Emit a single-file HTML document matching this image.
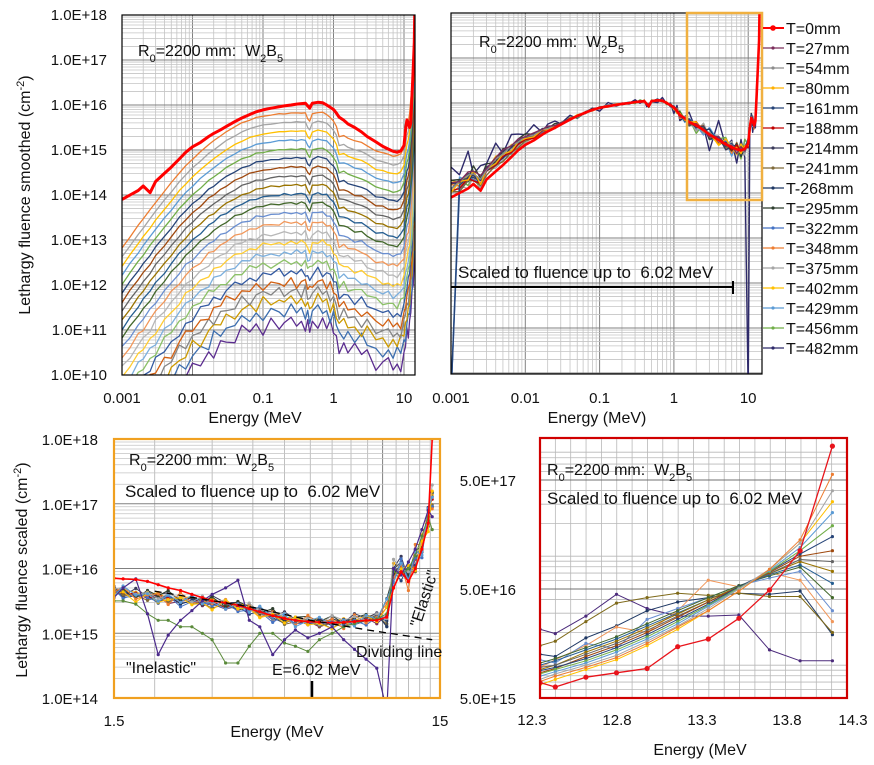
<!DOCTYPE html>
<html><head><meta charset="utf-8"><style>
body{margin:0;background:#fff}
svg{display:block;font-family:"Liberation Sans",sans-serif}
</style></head><body>
<svg id="chart" width="874" height="765" viewBox="0 0 874 765" xmlns="http://www.w3.org/2000/svg">
<defs>
<clipPath id="clipA"><rect x="122" y="15" width="293" height="360"/></clipPath>
<clipPath id="clipB"><rect x="451" y="13" width="311" height="361"/></clipPath>
<clipPath id="clipC"><rect x="114" y="439" width="326" height="259"/></clipPath>
<clipPath id="clipD"><rect x="540" y="438" width="307" height="260"/></clipPath>
</defs>
<rect x="0" y="0" width="874" height="765" fill="#fff"/>
<g id="gA"></g>
<g id="gB"></g>
<g id="gC"></g>
<g id="gD"></g>
<g id="texts" font-size="16" fill="#111">
 <text transform="translate(30,195) rotate(-90)" text-anchor="middle">Lethargy fluence smoothed (cm<tspan baseline-shift="super" font-size="11">-2</tspan>)</text>
 <text x="255" y="423" text-anchor="middle">Energy (MeV</text>
 <text x="597" y="423" text-anchor="middle">Energy (MeV)</text>
 <text transform="translate(27,570) rotate(-90)" text-anchor="middle">Lethargy fluence scaled (cm<tspan baseline-shift="super" font-size="11">-2</tspan>)</text>
 <text x="277" y="737" text-anchor="middle">Energy (MeV</text>
 <text x="700" y="755" text-anchor="middle">Energy (MeV</text>
 <text x="138" y="56">R<tspan baseline-shift="sub" font-size="11">0</tspan><tspan>=2200 mm:&#160; W</tspan><tspan baseline-shift="sub" font-size="11">2</tspan><tspan>B</tspan><tspan baseline-shift="sub" font-size="11">5</tspan></text>
 <text x="479" y="47">R<tspan baseline-shift="sub" font-size="11">0</tspan><tspan>=2200 mm:&#160; W</tspan><tspan baseline-shift="sub" font-size="11">2</tspan><tspan>B</tspan><tspan baseline-shift="sub" font-size="11">5</tspan></text>
 <text x="458" y="278" font-size="17">Scaled to fluence up to&#160; 6.02 MeV</text>
 <text x="129" y="465">R<tspan baseline-shift="sub" font-size="11">0</tspan><tspan>=2200 mm:&#160; W</tspan><tspan baseline-shift="sub" font-size="11">2</tspan><tspan>B</tspan><tspan baseline-shift="sub" font-size="11">5</tspan></text>
 <text x="125" y="497" font-size="17">Scaled to fluence up to&#160; 6.02 MeV</text>
 <text x="126" y="673">"Inelastic"</text>
 <text x="272" y="675">E=6.02 MeV</text>
 <text x="356" y="657">Dividing line</text>
 <text transform="translate(420,628) rotate(-72)">"Elastic"</text>
 <text x="547" y="475">R<tspan baseline-shift="sub" font-size="11">0</tspan><tspan>=2200 mm:&#160; W</tspan><tspan baseline-shift="sub" font-size="11">2</tspan><tspan>B</tspan><tspan baseline-shift="sub" font-size="11">5</tspan></text>
 <text x="547" y="504" font-size="17">Scaled to fluence up to&#160; 6.02 MeV</text>
</g>
</svg>
<script>
// ---------- data ----------
const aE = [0.001,0.0013,0.0017,0.002,0.0025,0.003,0.004,0.005,0.0065,0.008,0.01,0.013,0.017,0.02,0.025,0.03,0.04,0.05,0.065,0.08,0.1,0.13,0.17,0.2,0.25,0.3,0.35,0.4,0.43,0.46,0.5,0.6,0.7,0.8,0.9,1.0,1.1,1.2,1.4,1.6,2,2.5,3,4,5,6,7,8,9,10,10.5,11,11.5,12,12.5,13,13.5,14,14.2];
const redA = [13.9,14.0,14.1,14.2,14.05,14.3,14.48,14.62,14.8,14.95,15.07,15.17,15.3,15.37,15.45,15.52,15.63,15.71,15.79,15.85,15.89,15.93,15.96,15.98,16.0,16.02,16.03,16.04,15.98,15.93,16.04,16.06,16.05,16.0,15.95,15.9,15.82,15.73,15.66,15.58,15.5,15.4,15.3,15.18,15.08,15.02,14.97,14.95,14.98,15.1,15.45,15.67,15.6,15.5,15.6,16.2,16.8,17.4,18.0];
const relA = [-3.0,-2.75,-2.5,-2.35,-2.15,-1.98,-1.74,-1.55,-1.33,-1.17,-1.02,-0.86,-0.7,-0.62,-0.5,-0.42,-0.3,-0.22,-0.15,-0.1,-0.07,-0.04,-0.02,-0.01,0,0,0,0,-0.12,-0.18,-0.02,0.02,0.01,-0.03,-0.1,-0.18,-0.3,-0.52,-0.5,-0.55,-0.62,-0.65,-0.72,-0.85,-0.88,-0.92,-0.95,-0.95,-0.9,-0.75,-0.5,-0.3,-0.2,0,0.3,0.6,1.0,1.3,1.5];
const peakA = [15.82,15.62,15.42,15.22,15.02,14.82,14.62,14.42,14.22,14.02,13.82,13.6,13.38,13.16,12.94,12.72,12.5,12.28,12.05,11.85,11.65,11.42,11.15];
const ampA = [0.01,0.01,0.01,0.015,0.015,0.02,0.02,0.02,0.025,0.03,0.03,0.04,0.05,0.06,0.07,0.08,0.1,0.12,0.14,0.16,0.18,0.2,0.22];
const wig = [0.3,-0.5,0.8,-0.2,0.6,-0.9,0.1,0.7,-0.4,0.2,-0.8,0.5,-0.1,0.9,-0.6,0.3,-0.3,0.6,-0.7,0.4,0.0,-0.5,0.8,-0.9,0.2,0.5,-0.2,0.7,-0.6,0.1,0.4,-0.8,0.9,-0.3,0.2,-0.1,0.6,-0.4,0.3,-0.7,0.5,0.0,-0.6,0.8,-0.2,0.4,-0.9,0.7,-0.5,0.1,0.6,-0.3,0.2,-0.8,0.9,-0.1,0.3,-0.6,0.5,-0.4,0.8,-0.2,0.1,-0.7];
const pal = ['#ED7D31','#A5A5A5','#FFC000','#5B9BD5','#70AD47','#264478','#9E480E','#636363','#997300','#255E91','#43682B','#698ED0','#F1975A','#B7B7B7','#FFCD33','#7CAFDD','#8CC168','#335AA1','#D26012','#848484','#CC9A00','#3C6EAF','#5B2C8F'];
const legendLabels = ['T=0mm','T=27mm','T=54mm','T=80mm','T=161mm','T=188mm','T=214mm','T=241mm','T-268mm','T=295mm','T=322mm','T=348mm','T=375mm','T=402mm','T=429mm','T=456mm','T=482mm'];
const legendColors = ['#FF0000','#7B2D5B','#8C8C8C','#FFB000','#264478','#C00000','#3A3A5A','#7F6A3A','#1F3864','#2F3F2F','#4472C4','#ED7D31','#A5A5A5','#FFC000','#5B9BD5','#70AD47','#2E2A6A'];
const bLow = [0.3,0.25,0.2,0.2,0.15,0.25,0.1,0.2,0.3,0.15,0.2,0.1,0.25,0.2,0.15,0.45];
const bW = [1,1,1,1,1,1,1,1,0.9,0.8,0.7,0.5,0.4,0.3,0.2,0.1,0.05,0,0,0,0,0,0,0,0,0,0,0,0,0,0,0,0,0,0,0,0,0,0,0,0,0,0,0,0,0,0,0,0,0,0,0,0,0,0,0,0,0,0];
const bNW = [1.5,1.5,1.4,1.3,1.2,1.1,1,0.9,0.8,0.7,0.6,0.5,0.5,0.45,0.4,0.4,0.35,0.3,0.3,0.3,0.3,0.3,0.3,0.3,0.3,0.3,0.3,0.3,0.3,0.3,0.3,0.3,0.3,0.35,0.4,0.5,0.6,0.8,1,1.2,1.3,1.4,1.5,1.6,1.7,1.7,1.7,1.6,1.6,1.5,1.4,1.3,1.2,1.1,1,1,1,1,1];
const ampB = [0.06,0.05,0.08,0.06,0.07,0.08,0.06,0.09,0.1,0.08,0.1,0.12,0.11,0.13,0.15,0.3];
const dropB = [3,9,13];
const cE = [1.5,1.6,1.75,1.9,2.05,2.2,2.4,2.6,2.8,3.0,3.3,3.6,3.9,4.2,4.6,5.0,5.4,5.9,6.4,7.0,7.6,8.2,8.9,9.6,10.3,10.8,11.4,12.0,12.6,13.2,13.8,14.2];
const cBase = [15.66,15.63,15.6,15.58,15.56,15.54,15.52,15.5,15.48,15.47,15.45,15.42,15.38,15.33,15.27,15.23,15.2,15.18,15.17,15.17,15.18,15.2,15.22,15.23,15.28,15.95,16.0,15.9,16.1,16.4,16.8,17.1];
const cRed = [15.85,15.84,15.83,15.8,15.75,15.7,15.66,15.6,15.55,15.5,15.47,15.43,15.38,15.33,15.27,15.23,15.2,15.18,15.17,15.16,15.17,15.18,15.2,15.2,15.25,15.7,15.95,15.8,16.0,16.3,16.7,18.0];
const cPurple = [15.55,15.7,15.84,15.3,14.67,14.97,15.2,15.35,15.5,15.6,15.7,15.82,15.2,15.1,14.67,14.9,15.05,14.93,15.0,15.1,14.9,14.75,14.6,14.46,13.5,16.0,15.9,16.1,16.3,16.6,16.9,16.8];
const cGreen = [15.5,15.5,15.45,15.3,15.2,15.2,15.1,15.1,15.0,14.9,14.54,14.54,14.8,15.0,15.0,14.85,14.8,14.72,14.9,15.0,15.1,15.15,15.2,15.22,15.3,15.95,15.9,16.0,16.2,16.5,16.8,16.6];
const ampC = [0.06,0.07,0.05,0.08,0.06,0.09,0.07,0.08,0.1,0.09,0.12,0.08,0.1,0.11];
const dE = [12.35,12.44,12.62,12.8,12.98,13.16,13.34,13.52,13.7,13.88,14.07];
const dSeries = [
 [15.84,15.80,15.89,15.93,15.97,16.17,16.24,16.43,16.69,17.05,18.01],
 [15.85,15.9,15.98,16.07,16.2,16.35,16.5,16.68,16.88,17.15,17.75],
 [15.87,15.92,16.0,16.09,16.22,16.36,16.52,16.7,16.88,17.12,17.6],
 [15.82,15.87,15.96,16.05,16.18,16.33,16.5,16.68,16.88,17.12,17.5],
 [15.9,15.94,16.02,16.12,16.24,16.38,16.54,16.7,16.87,17.08,17.4],
 [15.92,15.96,16.04,16.14,16.26,16.4,16.55,16.71,16.86,17.05,17.28],
 [15.95,15.98,16.06,16.16,16.28,16.42,16.56,16.72,16.86,17.02,17.18],
 [15.93,15.97,16.08,16.18,16.3,16.44,16.58,16.72,16.85,17.0,17.05],
 [15.98,16.0,16.1,16.2,16.32,16.45,16.58,16.72,16.84,16.97,16.95],
 [15.96,16.0,16.12,16.22,16.34,16.47,16.6,16.72,16.84,16.95,16.86],
 [16.0,16.04,16.14,16.24,16.36,16.48,16.6,16.72,16.83,16.92,16.75],
 [16.02,16.06,16.16,16.26,16.38,16.5,16.62,16.73,16.82,16.9,16.62],
 [16.05,16.02,16.2,16.15,16.42,16.52,16.62,16.73,16.8,16.86,16.5],
 [15.98,16.05,16.18,16.35,16.3,16.5,16.78,16.72,16.85,16.78,16.4],
 [16.18,16.22,16.4,16.57,16.62,16.66,16.64,16.66,16.63,16.63,16.3],
 [16.1,16.08,16.25,16.36,16.5,16.58,16.62,16.66,16.65,16.68,16.28],
 [16.33,16.29,16.45,16.65,16.52,16.45,16.45,16.46,16.14,16.04,16.04]
];
const dColors = ['#E8141B','#ED7D31','#A5A5A5','#FFC000','#5B9BD5','#70AD47','#264478','#9E480E','#636363','#997300','#255E91','#43682B','#698ED0','#F1975A','#7F6A1A','#1F3864','#4B2A7B'];
const yTicksA = [10,11,12,13,14,15,16,17,18];
const xTicksLog = [0.001,0.01,0.1,1,10];
const xTickLabelsLog = ['0.001','0.01','0.1','1','10'];
const yTicksC = [14,15,16,17,18];
const yTicksD = ['5.0E+15','5.0E+16','5.0E+17'];
const yTicksDval = [5e15,5e16,5e17];
const xTicksD = ['12.3','12.8','13.3','13.8','14.3'];
const xTicksDval = [12.3,12.8,13.3,13.8,14.3];

// ---------- helpers ----------
const NS = 'http://www.w3.org/2000/svg';
function mk(tag, parent){const e=document.createElementNS(NS,tag);parent.appendChild(e);return e;}
function line(p,x1,y1,x2,y2,c,w){const l=mk('line',p);l.setAttribute('x1',x1);l.setAttribute('y1',y1);l.setAttribute('x2',x2);l.setAttribute('y2',y2);l.setAttribute('stroke',c);l.setAttribute('stroke-width',w);return l;}
function txt(p,x,y,s,anchor,size){const t=mk('text',p);t.setAttribute('x',x);t.setAttribute('y',y);t.setAttribute('text-anchor',anchor);t.setAttribute('font-size',size||15);t.setAttribute('fill','#111');t.textContent=s;return t;}
function poly(p,pts,c,w){const l=mk('polyline',p);l.setAttribute('points',pts.map(q=>q[0].toFixed(1)+','+q[1].toFixed(1)).join(' '));l.setAttribute('fill','none');l.setAttribute('stroke',c);l.setAttribute('stroke-width',w);l.setAttribute('stroke-linejoin','round');return l;}
const clampLv = v => Math.max(v, 9.3);

// ---------- Panel A ----------
const xA = e => 122 + (Math.log10(e)+3)*70.5;
const yA = lv => 15 + (18-lv)*45;
const gA = document.getElementById('gA');
function logGrid(g, xs, ys, x0,x1,y0,y1, xmin,xmax){
 for(let d=-3; d<=1; d++) for(let m=1;m<=9;m++){const e=m*Math.pow(10,d); if(e<xmin||e>xmax) continue; const x=xs(e);
  const gl=line(g,x,y0,x,y1,m===1?'#808080':'#c4c4c4',m===1?1:0.8);
  
  }
 for(let d=10; d<=17; d++) for(let m=1;m<=9;m++){const y=ys(d+Math.log10(m)); if(y<y0-0.5) continue;
  const gl=line(g,x0,y,x1,y,m===1?'#808080':'#c4c4c4',m===1?1:0.8);
  
  }
}
logGrid(gA,xA,yA,122,415,15,375,0.001,14.3);
const sA = mk('g',gA); sA.setAttribute('clip-path','url(#clipA)');


for(let s=peakA.length-1;s>=0;s--){
 const pts=aE.map((e,j)=>[xA(e), yA(clampLv(peakA[s]+relA[j]+ampA[s]*wig[(j+7*s)%64]))]);
 const pl=poly(sA,pts,pal[s],1.3);
 
 
}
{const pl=poly(sA,aE.map((e,j)=>[xA(e),yA(redA[j])]),'#FF0000',3);
 
 }
{const fr=mk('rect',gA);fr.setAttribute('x',122);fr.setAttribute('y',15);fr.setAttribute('width',293);fr.setAttribute('height',360);fr.setAttribute('fill','none');fr.setAttribute('stroke','#000');fr.setAttribute('stroke-width',1.2);
 
 }
yTicksA.forEach(v=>{const t=txt(gA,107,yA(v)+5,'1.0E+'+v,'end');
 
 });
xTicksLog.forEach((v,i)=>{const t=txt(gA,xA(v),403,xTickLabelsLog[i],'middle');
 
 });

// ---------- Panel B ----------
const xB = e => 451 + (Math.log10(e)+3)*74.3;
const yB = lv => 13 + (18-lv)*45;
const gB = document.getElementById('gB');
logGrid(gB,xB,yB,451,762,13,374,0.001,14.3);
const sB = mk('g',gB); sB.setAttribute('clip-path','url(#clipB)');


for(let s=bLow.length-1;s>=0;s--){
 const vals=aE.map((e,j)=>redA[j]+bLow[s]*bW[j]+ampB[s]*bNW[j]*wig[(j+5*s)%64]);
 if(dropB.includes(s)) vals[0]=8;
 if(s===15) vals[49]=8;
 const pl=poly(sB,aE.map((e,j)=>[xB(e),yB(Math.max(vals[j],9.5))]),legendColors[s+1],1.4);
 
 
}
{const pl=poly(sB,aE.map((e,j)=>[xB(e),yB(redA[j])]),'#FF0000',2.6);
 
 }
{const fr=mk('rect',gB);fr.setAttribute('x',451);fr.setAttribute('y',13);fr.setAttribute('width',311);fr.setAttribute('height',361);fr.setAttribute('fill','none');fr.setAttribute('stroke','#000');fr.setAttribute('stroke-width',1.2);
 
 }
{const zr=mk('rect',gB);zr.setAttribute('x',687);zr.setAttribute('y',13);zr.setAttribute('width',75);zr.setAttribute('height',187);zr.setAttribute('fill','none');zr.setAttribute('stroke','#F0B040');zr.setAttribute('stroke-width',2.5);
 
 }
{const l1=line(gB,451,287,733,287,'#000',2);
 
 
 const l2=line(gB,733,281,733,294,'#000',2);
 
 }
xTicksLog.forEach((v,i)=>{const t=txt(gB,xB(v),403,xTickLabelsLog[i],'middle');
 
 });
// legend
legendLabels.forEach((lab,i)=>{
 const y=28+20*i;
 const g=mk('g',gB);
 
 
 line(g,763,y,784,y,legendColors[i],i===0?2:1.2);
 const c=mk('circle',g);c.setAttribute('cx',773);c.setAttribute('cy',y);c.setAttribute('r',i===0?2.8:1.6);c.setAttribute('fill',legendColors[i]);
 txt(g,786,y+6,lab,'start',16);
});

// ---------- Panel C ----------
const xC = e => 114 + Math.log10(e/1.5)*326;
const yC = lv => 439 + (18-lv)*64.75;
const gC = document.getElementById('gC');
for(let e=2;e<=14;e++){const gl=line(gC,xC(e),439,xC(e),698,e===10?'#808080':'#b0b0b0',e===10?1:0.8);
 
 }
for(let d=14;d<=17;d++) for(let m=1;m<=9;m++){const y=yC(d+Math.log10(m));
 const gl=line(gC,114,y,440,y,m===1?'#808080':'#c4c4c4',m===1?1:0.8);
 
 }
const sC = mk('g',gC); sC.setAttribute('clip-path','url(#clipC)');


const cColors = legendColors.slice(1);
function drawC(vals,color,w,name){
 const pts=cE.map((e,j)=>[xC(e),yC(Math.max(vals[j],13.8))]);
 const pl=poly(sC,pts,color,w);
 
 
 pts.forEach(p=>{const c=mk('circle',sC);c.setAttribute('cx',p[0].toFixed(1));c.setAttribute('cy',p[1].toFixed(1));c.setAttribute('r',1.6);c.setAttribute('fill',color);
  
  });
}
ampC.forEach((a,s)=>{const vals=cE.map((e,j)=>cBase[j]+a*wig[(j+9*s)%64]*(j>=24?2.5:1)+(s%3-1)*0.03);
 drawC(vals,cColors[s],1,'curve-c-'+(s+1));});
drawC(cGreen,'#5A8A3A',1,'curve-c-green');
drawC(cPurple,'#4B2A8B',1.2,'curve-c-purple');
drawC(cRed,'#FF0000',1.6,'curve-c-t0');
{const dl=mk('polyline',gC);dl.setAttribute('points',[[2,15.65],[4,15.4],[6,15.2],[9,15.05],[14.2,14.9]].map(q=>xC(q[0]).toFixed(1)+','+yC(q[1]).toFixed(1)).join(' '));
 dl.setAttribute('fill','none');dl.setAttribute('stroke','#000');dl.setAttribute('stroke-width',1.3);dl.setAttribute('stroke-dasharray','7,5');
 
 }
{const m=line(gC,312,681,312,698,'#000',2.5);
 
 }
{const fr=mk('rect',gC);fr.setAttribute('x',114);fr.setAttribute('y',439);fr.setAttribute('width',326);fr.setAttribute('height',259);fr.setAttribute('fill','none');fr.setAttribute('stroke','#F0A020');fr.setAttribute('stroke-width',2.2);
 
 }
yTicksC.forEach(v=>{const t=txt(gC,98,yC(v)+6,'1.0E+'+v,'end');
 
 });
{const t1=txt(gC,114,726,'1.5','middle');
 const t2=txt(gC,440,726,'15','middle');}

// ---------- Panel D ----------
const LD0 = Math.log10(5e15);
const xD = e => 540 + (e-12.35)*170;
const yD = lv => 698 - (lv-LD0)*109;
const gD = document.getElementById('gD');
for(let k=1;k<20;k++){const x=540+k*15.35; if(x>846) break;
 const gl=line(gD,x,438,x,698,'#b8b8b8',0.8);
 
 }
for(let d=15;d<=17;d++) for(let m=1;m<=9;m++){const lv=d+Math.log10(m); if(lv<=LD0+0.001) continue; const y=yD(lv); if(y<438) continue;
 const gl=line(gD,540,y,847,y,m===5?'#707070':'#b8b8b8',m===5?1:0.8);
 
 }
const sD = mk('g',gD); sD.setAttribute('clip-path','url(#clipD)');


for(let s=dSeries.length-1;s>=0;s--){
 const pts=dE.map((e,j)=>[xD(e),yD(dSeries[s][j])]);
 const pl=poly(sD,pts,dColors[s],s===0?1.3:1);
 
 
 pts.forEach(p=>{const c=mk('circle',sD);c.setAttribute('cx',p[0].toFixed(1));c.setAttribute('cy',p[1].toFixed(1));c.setAttribute('r',s===0?2.6:1.6);c.setAttribute('fill',dColors[s]);
  
  });
}
{const fr=mk('rect',gD);fr.setAttribute('x',540);fr.setAttribute('y',438);fr.setAttribute('width',307);fr.setAttribute('height',260);fr.setAttribute('fill','none');fr.setAttribute('stroke','#D00000');fr.setAttribute('stroke-width',2.2);
 
 }
yTicksD.forEach((lab,i)=>{const t=txt(gD,516,yD(Math.log10(yTicksDval[i]))+6,lab,'end');
 
 });
const xTickPix=[532,617,702,787,853];
xTicksD.forEach((lab,i)=>{const t=txt(gD,xTickPix[i],725,lab,'middle');
 
 });
</script>
</body></html>
